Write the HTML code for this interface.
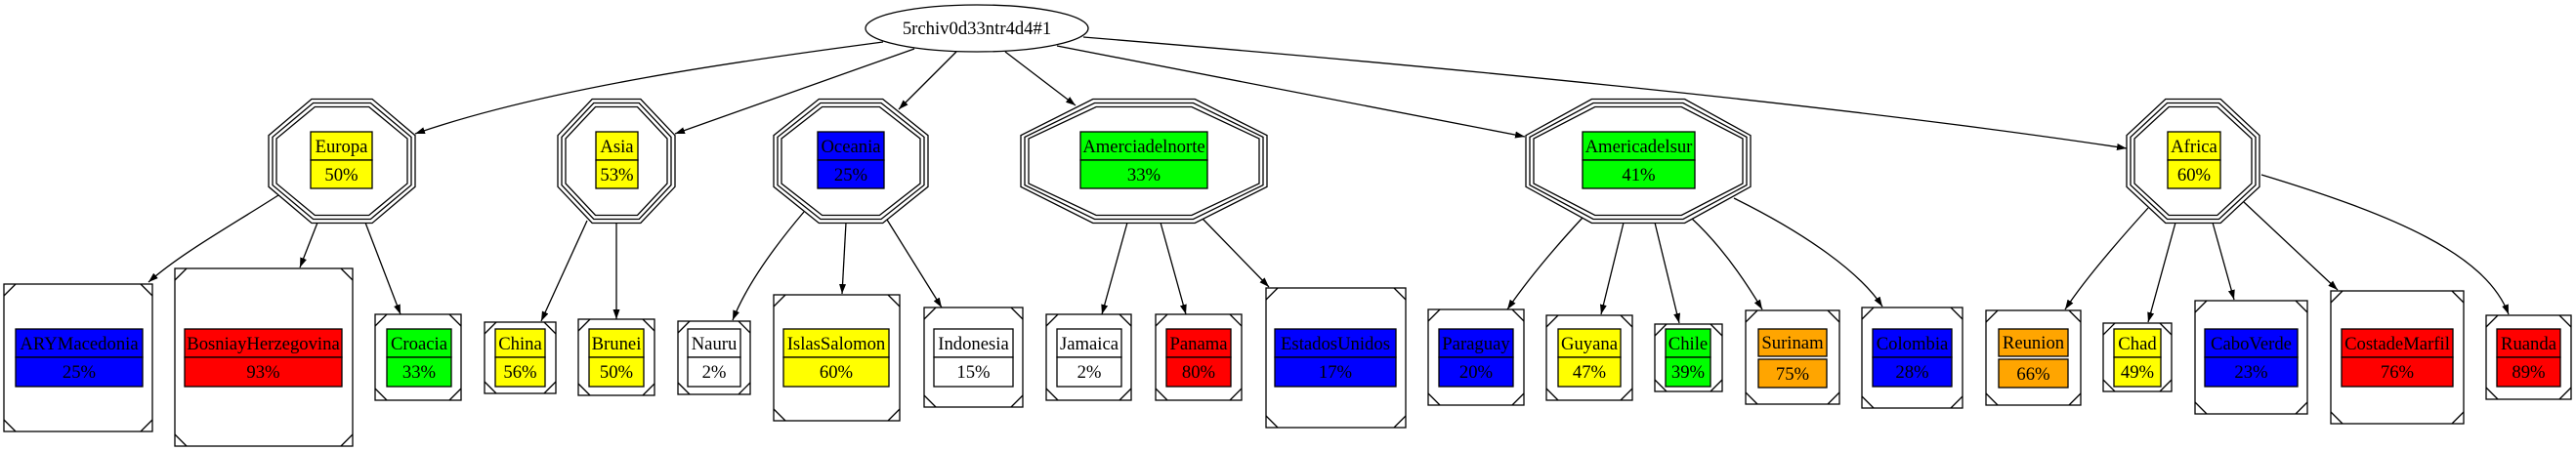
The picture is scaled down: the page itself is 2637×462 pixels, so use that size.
<!DOCTYPE html>
<html><head><meta charset="utf-8"><style>
html,body{margin:0;padding:0;background:#fff}
svg{display:block}
text{font-family:"Liberation Serif",serif;font-size:18.67px;text-anchor:middle;fill:#000}
</style></head><body>
<svg width="2637" height="462" viewBox="0 0 2637 462" xmlns="http://www.w3.org/2000/svg">
<defs>
<marker id="a" markerUnits="userSpaceOnUse" markerWidth="11" markerHeight="8" refX="10" refY="3.5" orient="auto"><path d="M0,0L10,3.5L0,7z" fill="#000"/></marker>
</defs>
<rect width="2637" height="462" fill="#fff"/>
<ellipse cx="1000" cy="29" rx="114" ry="24" fill="none" stroke="#000" stroke-width="1.3"/>
<text x="1000" y="35">5rchiv0d33ntr4d4#1</text>

<g fill="none" stroke="#000" stroke-width="1.3" marker-end="url(#a)">
<path d="M904,43C760,62 560,90 425,137"/>
<path d="M936,50L691,137"/>
<path d="M979,53L920,112"/>
<path d="M1029,53L1101,108"/>
<path d="M1082,47L1561,140"/>
<path d="M1109,38C1500,70 1900,110 2177,152"/>
<path d="M285,200C230,235 185,260 152,289"/>
<path d="M325,228L307,274"/>
<path d="M374,228L410,322"/>
<path d="M601,226L554,329"/>
<path d="M631,228L631,327"/>
<path d="M823,217C795,250 765,290 750,328"/>
<path d="M866,228L862,301"/>
<path d="M908,225L964,315"/>
<path d="M1154,228L1128,322"/>
<path d="M1188,228L1214,322"/>
<path d="M1231,224L1299,294"/>
<path d="M1620,223C1595,250 1565,285 1543,317"/>
<path d="M1662,228L1639,322"/>
<path d="M1694,228L1719,331"/>
<path d="M1732,224C1760,250 1785,285 1804,317"/>
<path d="M1775,203C1850,240 1905,280 1927,314"/>
<path d="M2199,213C2170,245 2135,285 2114,317"/>
<path d="M2227,228L2199,330"/>
<path d="M2265,228L2287,307"/>
<path d="M2297,207L2393,297"/>
<path d="M2315,179C2450,220 2545,260 2568,322"/>
</g>

<g fill="#fff" stroke="#000" stroke-width="1.3">
<polygon points="318.95,101.5 381.05,101.5 425,138.7 425,191.3 381.05,228.5 318.95,228.5 275,191.3 275,138.7"/>
<polygon points="320.6,105.5 379.4,105.5 421,140.4 421,189.6 379.4,224.5 320.6,224.5 279,189.6 279,140.4"/>
<polygon points="322.3,109.5 377.7,109.5 417,142 417,188 377.7,220.5 322.3,220.5 283,188 283,142"/>
<polygon points="606.2,101.5 655.8,101.5 691,138.7 691,191.3 655.8,228.5 606.2,228.5 571,191.3 571,138.7"/>
<polygon points="607.8,105.5 654.2,105.5 687,140.4 687,189.6 654.2,224.5 607.8,224.5 575,189.6 575,140.4"/>
<polygon points="609.5,109.5 652.5,109.5 683,142 683,188 652.5,220.5 609.5,220.5 579,188 579,142"/>
<polygon points="838.3,101.5 903.7,101.5 950,138.7 950,191.3 903.7,228.5 838.3,228.5 792,191.3 792,138.7"/>
<polygon points="839.95,105.5 902.05,105.5 946,140.4 946,189.6 902.05,224.5 839.95,224.5 796,189.6 796,140.4"/>
<polygon points="841.6,109.5 900.4,109.5 942,142 942,188 900.4,220.5 841.6,220.5 800,188 800,142"/>
<polygon points="1118.8,101.5 1223.2,101.5 1297,138.7 1297,191.3 1223.2,228.5 1118.8,228.5 1045,191.3 1045,138.7"/>
<polygon points="1120.5,105.5 1221.5,105.5 1293,140.4 1293,189.6 1221.5,224.5 1120.5,224.5 1049,189.6 1049,140.4"/>
<polygon points="1122.1,109.5 1219.9,109.5 1289,142 1289,188 1219.9,220.5 1122.1,220.5 1053,188 1053,142"/>
<polygon points="1629.4,101.5 1724.6,101.5 1792,138.7 1792,191.3 1724.6,228.5 1629.4,228.5 1562,191.3 1562,138.7"/>
<polygon points="1631,105.5 1723,105.5 1788,140.4 1788,189.6 1723,224.5 1631,224.5 1566,189.6 1566,140.4"/>
<polygon points="1632.7,109.5 1721.3,109.5 1784,142 1784,188 1721.3,220.5 1632.7,220.5 1570,188 1570,142"/>
<polygon points="2216.8,101.5 2273.2,101.5 2313,138.7 2313,191.3 2273.2,228.5 2216.8,228.5 2177,191.3 2177,138.7"/>
<polygon points="2218.5,105.5 2271.5,105.5 2309,140.4 2309,189.6 2271.5,224.5 2218.5,224.5 2181,189.6 2181,140.4"/>
<polygon points="2220.2,109.5 2269.8,109.5 2305,142 2305,188 2269.8,220.5 2220.2,220.5 2185,188 2185,142"/>
</g>
<g stroke="#000" stroke-width="1.3">
<rect x="318" y="135" width="63" height="29" fill="#ff0"/><rect x="318" y="164" width="63" height="29" fill="#ff0"/>
<rect x="610" y="135" width="43" height="29" fill="#ff0"/><rect x="610" y="164" width="43" height="29" fill="#ff0"/>
<rect x="837" y="135" width="68" height="29" fill="#00f"/><rect x="837" y="164" width="68" height="29" fill="#00f"/>
<rect x="1106" y="135" width="130" height="29" fill="#0f0"/><rect x="1106" y="164" width="130" height="29" fill="#0f0"/>
<rect x="1620" y="135" width="115" height="29" fill="#0f0"/><rect x="1620" y="164" width="115" height="29" fill="#0f0"/>
<rect x="2219" y="135" width="54" height="29" fill="#ff0"/><rect x="2219" y="164" width="54" height="29" fill="#ff0"/>
</g>
<text x="349.5" y="156">Europa</text><text x="349.5" y="185">50%</text>
<text x="631.5" y="156">Asia</text><text x="631.5" y="185">53%</text>
<text x="871" y="156">Oceania</text><text x="871" y="185">25%</text>
<text x="1171" y="156">Amerciadelnorte</text><text x="1171" y="185">33%</text>
<text x="1677.5" y="156">Americadelsur</text><text x="1677.5" y="185">41%</text>
<text x="2246" y="156">Africa</text><text x="2246" y="185">60%</text>

<g fill="none" stroke="#000" stroke-width="1.3">
<rect x="4" y="291" width="152" height="151"/>
<rect x="179" y="275" width="182" height="182"/>
<rect x="384" y="322" width="88" height="88"/>
<rect x="496" y="330" width="73" height="73"/>
<rect x="592" y="327" width="78" height="78"/>
<rect x="694" y="329" width="74" height="75"/>
<rect x="792" y="302" width="129" height="129"/>
<rect x="946" y="315" width="101" height="102"/>
<rect x="1071" y="322" width="87" height="88"/>
<rect x="1183" y="322" width="88" height="88"/>
<rect x="1296" y="295" width="143" height="143"/>
<rect x="1462" y="317" width="98" height="98"/>
<rect x="1583" y="323" width="88" height="87"/>
<rect x="1694" y="332" width="69" height="69"/>
<rect x="1787" y="318" width="96" height="96"/>
<rect x="1906" y="315" width="103" height="103"/>
<rect x="2033" y="318" width="97" height="97"/>
<rect x="2153" y="331" width="70" height="70"/>
<rect x="2247" y="308" width="115" height="116"/>
<rect x="2386" y="298" width="136" height="136"/>
<rect x="2545" y="323" width="87" height="86"/>
<path d="M4,303L16,291M144,291L156,303M4,430L16,442M144,442L156,430
M179,287L191,275M349,275L361,287M179,445L191,457M349,457L361,445
M384,334L396,322M460,322L472,334M384,398L396,410M460,410L472,398
M496,342L508,330M557,330L569,342M496,391L508,403M557,403L569,391
M592,339L604,327M658,327L670,339M592,393L604,405M658,405L670,393
M694,341L706,329M756,329L768,341M694,392L706,404M756,404L768,392
M792,314L804,302M909,302L921,314M792,419L804,431M909,431L921,419
M946,327L958,315M1035,315L1047,327M946,405L958,417M1035,417L1047,405
M1071,334L1083,322M1146,322L1158,334M1071,398L1083,410M1146,410L1158,398
M1183,334L1195,322M1259,322L1271,334M1183,398L1195,410M1259,410L1271,398
M1296,307L1308,295M1427,295L1439,307M1296,426L1308,438M1427,438L1439,426
M1462,329L1474,317M1548,317L1560,329M1462,403L1474,415M1548,415L1560,403
M1583,335L1595,323M1659,323L1671,335M1583,398L1595,410M1659,410L1671,398
M1694,344L1706,332M1751,332L1763,344M1694,389L1706,401M1751,401L1763,389
M1787,330L1799,318M1871,318L1883,330M1787,402L1799,414M1871,414L1883,402
M1906,327L1918,315M1997,315L2009,327M1906,406L1918,418M1997,418L2009,406
M2033,330L2045,318M2118,318L2130,330M2033,403L2045,415M2118,415L2130,403
M2153,343L2165,331M2211,331L2223,343M2153,389L2165,401M2211,401L2223,389
M2247,320L2259,308M2350,308L2362,320M2247,412L2259,424M2350,424L2362,412
M2386,310L2398,298M2510,298L2522,310M2386,422L2398,434M2510,434L2522,422
M2545,335L2557,323M2620,323L2632,335M2545,397L2557,409M2620,409L2632,397"/>
</g>
<g stroke="#000" stroke-width="1.3">
<rect x="16" y="337" width="130" height="29" fill="#00f"/><rect x="16" y="366" width="130" height="30" fill="#00f"/>
<rect x="189" y="337" width="161" height="29" fill="#f00"/><rect x="189" y="366" width="161" height="30" fill="#f00"/>
<rect x="396" y="337" width="66" height="29" fill="#0f0"/><rect x="396" y="366" width="66" height="30" fill="#0f0"/>
<rect x="507" y="337" width="51" height="29" fill="#ff0"/><rect x="507" y="366" width="51" height="30" fill="#ff0"/>
<rect x="603" y="337" width="56" height="29" fill="#ff0"/><rect x="603" y="366" width="56" height="30" fill="#ff0"/>
<rect x="704" y="337" width="54" height="29" fill="#fff"/><rect x="704" y="366" width="54" height="30" fill="#fff"/>
<rect x="802" y="337" width="108" height="29" fill="#ff0"/><rect x="802" y="366" width="108" height="30" fill="#ff0"/>
<rect x="956" y="337" width="81" height="29" fill="#fff"/><rect x="956" y="366" width="81" height="30" fill="#fff"/>
<rect x="1082" y="337" width="66" height="29" fill="#fff"/><rect x="1082" y="366" width="66" height="30" fill="#fff"/>
<rect x="1194" y="337" width="66" height="29" fill="#f00"/><rect x="1194" y="366" width="66" height="30" fill="#f00"/>
<rect x="1305" y="337" width="124" height="29" fill="#00f"/><rect x="1305" y="366" width="124" height="30" fill="#00f"/>
<rect x="1473" y="337" width="76" height="29" fill="#00f"/><rect x="1473" y="366" width="76" height="30" fill="#00f"/>
<rect x="1595" y="337" width="64" height="29" fill="#ff0"/><rect x="1595" y="366" width="64" height="30" fill="#ff0"/>
<rect x="1705" y="337" width="46" height="29" fill="#0f0"/><rect x="1705" y="366" width="46" height="30" fill="#0f0"/>
<rect x="1800" y="337" width="70" height="28" fill="#ffa500"/><rect x="1800" y="368" width="70" height="29" fill="#ffa500"/>
<rect x="1917" y="337" width="81" height="29" fill="#00f"/><rect x="1917" y="366" width="81" height="30" fill="#00f"/>
<rect x="2046" y="337" width="71" height="28" fill="#ffa500"/><rect x="2046" y="368" width="71" height="29" fill="#ffa500"/>
<rect x="2164" y="337" width="48" height="29" fill="#ff0"/><rect x="2164" y="366" width="48" height="30" fill="#ff0"/>
<rect x="2257" y="337" width="95" height="29" fill="#00f"/><rect x="2257" y="366" width="95" height="30" fill="#00f"/>
<rect x="2397" y="337" width="114" height="29" fill="#f00"/><rect x="2397" y="366" width="114" height="30" fill="#f00"/>
<rect x="2556" y="337" width="65" height="29" fill="#f00"/><rect x="2556" y="366" width="65" height="30" fill="#f00"/>
</g>
<text x="81" y="358">ARYMacedonia</text><text x="81" y="387">25%</text>
<text x="269.5" y="358">BosniayHerzegovina</text><text x="269.5" y="387">93%</text>
<text x="429" y="358">Croacia</text><text x="429" y="387">33%</text>
<text x="532.5" y="358">China</text><text x="532.5" y="387">56%</text>
<text x="631" y="358">Brunei</text><text x="631" y="387">50%</text>
<text x="731" y="358">Nauru</text><text x="731" y="387">2%</text>
<text x="856" y="358">IslasSalomon</text><text x="856" y="387">60%</text>
<text x="996.5" y="358">Indonesia</text><text x="996.5" y="387">15%</text>
<text x="1115" y="358">Jamaica</text><text x="1115" y="387">2%</text>
<text x="1227" y="358">Panama</text><text x="1227" y="387">80%</text>
<text x="1367" y="358">EstadosUnidos</text><text x="1367" y="387">17%</text>
<text x="1511" y="358">Paraguay</text><text x="1511" y="387">20%</text>
<text x="1627" y="358">Guyana</text><text x="1627" y="387">47%</text>
<text x="1728" y="358">Chile</text><text x="1728" y="387">39%</text>
<text x="1835" y="357">Surinam</text><text x="1835" y="389">75%</text>
<text x="1957.5" y="358">Colombia</text><text x="1957.5" y="387">28%</text>
<text x="2081.5" y="357">Reunion</text><text x="2081.5" y="389">66%</text>
<text x="2188" y="358">Chad</text><text x="2188" y="387">49%</text>
<text x="2304.5" y="358">CaboVerde</text><text x="2304.5" y="387">23%</text>
<text x="2454" y="358">CostadeMarfil</text><text x="2454" y="387">76%</text>
<text x="2588.5" y="358">Ruanda</text><text x="2588.5" y="387">89%</text>
</svg>
</body></html>
